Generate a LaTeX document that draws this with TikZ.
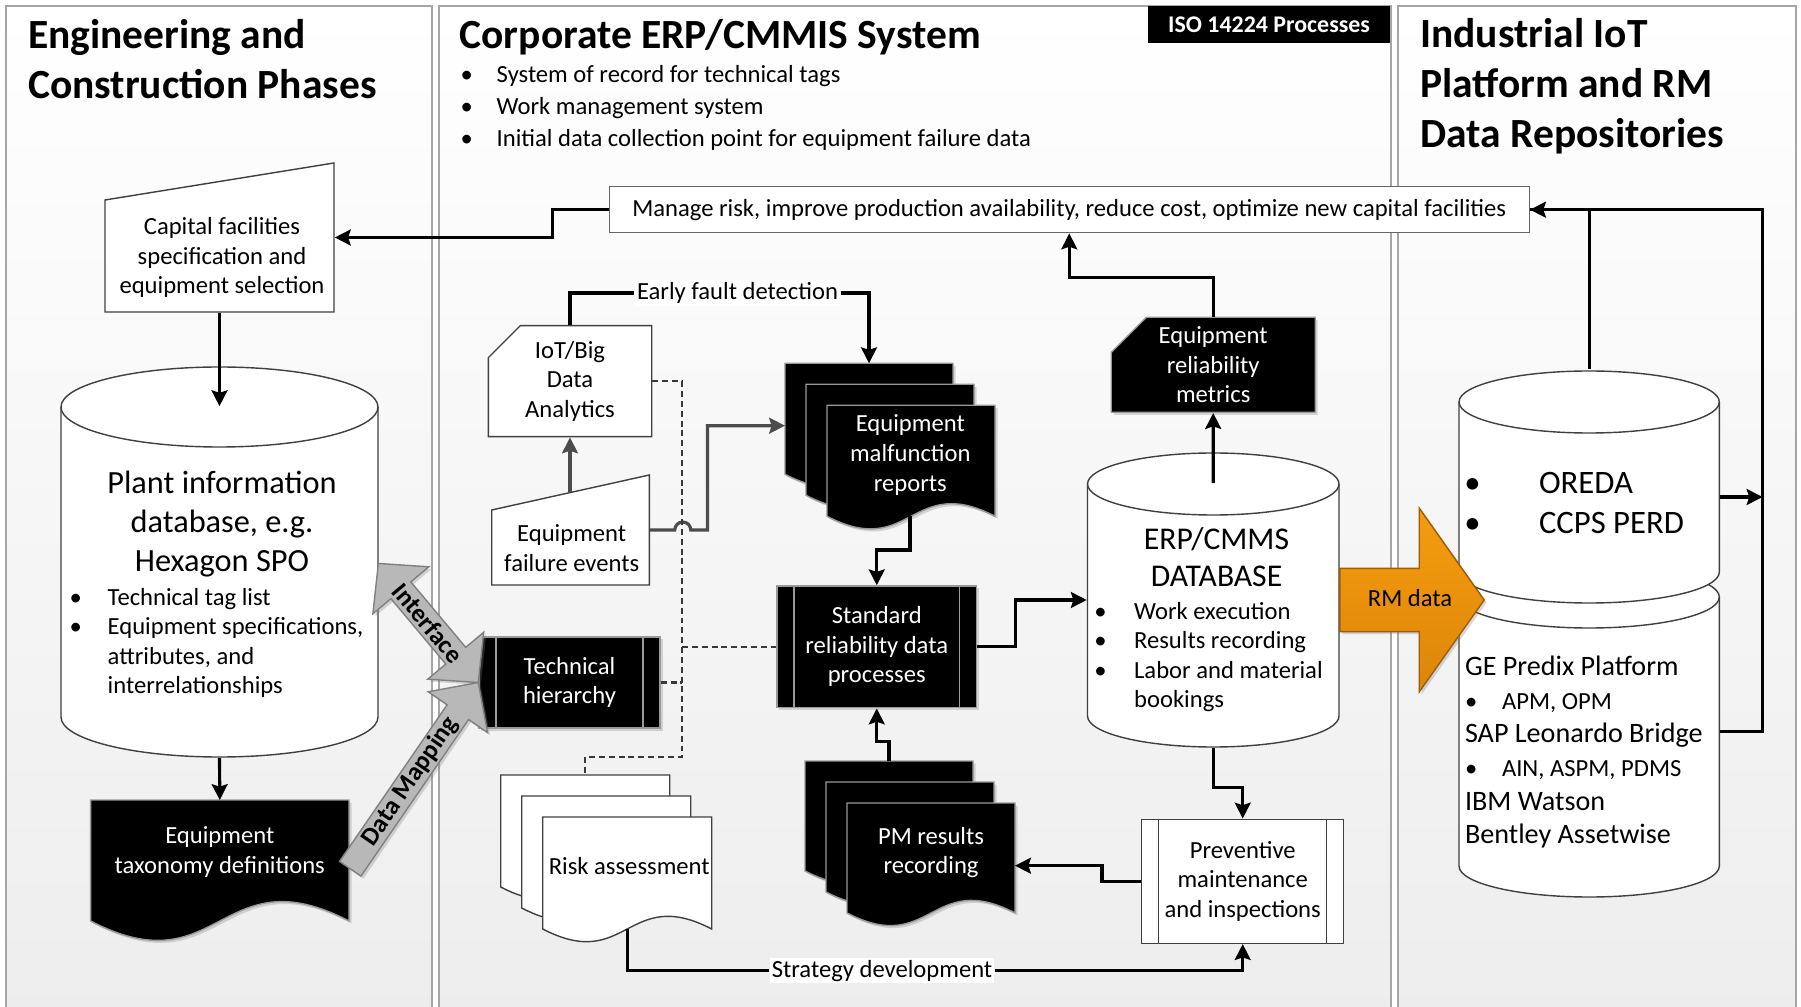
\documentclass[tikz,border=0pt]{standalone}
\usepackage{fontspec}
\setmainfont{Carlito}
\usetikzlibrary{arrows.meta, shadows, calc}

\definecolor{rmorange}{RGB}{245,157,14}
\definecolor{rmorangedk}{RGB}{221,133,10}

\newcommand{\bodyfont}{\fontsize{7}{8.4}\selectfont}
\newcommand{\bigfont}{\fontsize{9.2}{11.2}\selectfont}
\newcommand{\titlefont}{\bfseries\fontsize{11.8}{14.2}\selectfont}
\newcommand{\bul}[1][0.32cm]{\makebox[#1][l]{\hspace*{-0.25em}\textbullet}}
\newcommand{\subln}[1]{{\fontsize{7}{9.56}\selectfont\makebox[0.37cm][l]{\textbullet}#1}}

% shapes, pixel coordinates (y runs down)
\newcommand{\docshape}[5]{%
  \path[#5] (#1,#2) -- (#1+#3,#2) -- (#1+#3,#2+#4)
    .. controls (#1+0.5*#3,#2+#4-0.26*#3) and (#1+0.5*#3,#2+#4+0.26*#3) .. (#1,#2+#4) -- cycle;}
\newcommand{\multidoc}[5]{%
  \docshape{#1}{#2}{#3}{#4}{#5}%
  \docshape{#1+21}{#2+21}{#3}{#4}{#5}%
  \docshape{#1+42}{#2+42}{#3}{#4}{#5}}
\newcommand{\cylshape}[6]{%
  \path[#6] (#1,#3) -- (#1,#4)
    arc[start angle=180, end angle=0, x radius={(#2-#1)/2}, y radius=#5]
    -- (#2,#3) arc[start angle=0, end angle=-180, x radius={(#2-#1)/2}, y radius=#5] -- cycle;
  \draw[#6, fill=none] (#1,#3) arc[start angle=180, end angle=0, x radius={(#2-#1)/2}, y radius=#5];}
\newcommand{\cardshape}[6]{\path[#6] (#1+#5,#3) -- (#2,#3) -- (#2,#4) -- (#1,#4) -- (#1,#3+#5) -- cycle;}
\newcommand{\manualshape}[6]{\path[#6] (#1,#3) -- (#2,#4) -- (#2,#5) -- (#1,#5) -- cycle;}

\begin{document}
\begin{tikzpicture}[x=0.01cm, y=-0.01cm,
    panel/.style={draw=black!35, line width=0.5pt, top color=white, bottom color=black!7},
    ttl/.style={anchor=west, align=left, inner sep=0, font=\titlefont},
    txt/.style={align=center, inner sep=0, font=\bodyfont},
    wtxt/.style={txt, text=white},
    list/.style={anchor=west, align=left, inner sep=0, font=\bodyfont},
    box/.style={rectangle, inner sep=0},
    softshadow/.style={drop shadow={shadow xshift=0.025cm, shadow yshift=-0.025cm, opacity=0.3}},
    wshape/.style={draw=black!75, fill=white, line width=0.4pt},
    bshape/.style={draw=black!40, fill=black, line width=0.4pt, softshadow},
    proc/.style={rectangle, inner sep=0, align=center, font=\bodyfont, line width=0.4pt,
      path picture={\draw[#1, line width=0.4pt]
        ([xshift=0.17cm]path picture bounding box.north west) -- ([xshift=0.17cm]path picture bounding box.south west)
        ([xshift=-0.17cm]path picture bounding box.north east) -- ([xshift=-0.17cm]path picture bounding box.south east);}},
    procb/.style={proc=black!40, fill=black, draw=black!40, text=white, softshadow},
    procw/.style={proc=black!75, fill=white, draw=black!75},
    arr/.style={-{Stealth[length=4.5pt, width=4.5pt, inset=0.7pt]}, line width=0.9pt},
    garr/.style={arr, draw=black!70},
    link/.style={line width=0.9pt},
    dotl/.style={draw=black!78, line width=0.7pt, dash pattern=on 1.7pt off 1.1pt},
    lbl/.style={fill=white, inner sep=0.6pt, font=\bodyfont},
    gray arrow/.style={fill=black!28, draw=black!50, line width=0.4pt, softshadow},
    rm arrow/.style={top color=rmorange, bottom color=rmorangedk, draw=rmorangedk!70!black, line width=0.4pt, softshadow}
  ]
  \useasboundingbox (0,0) rectangle (1801,1007);

  % lanes
  \path[panel] (6,6) rectangle (432,1015);
  \path[panel] (439,6) rectangle (1391,1015);
  \path[panel] (1398,6) rectangle (1796,1015);

  \node[fill=black, text=white, inner sep=0, minimum width=2.42cm, minimum height=0.367cm,
        font=\bfseries\fontsize{6.8}{8}\selectfont] (iso) at (1269,24.4) {ISO 14224 Processes};
  \node[ttl] (engttl) at (27.5,59) {Engineering and\\Construction Phases};
  \node[ttl] (erpttl) at (459,37.5) {Corporate ERP/CMMIS System};
  \node[ttl] (iotttl) at (1419.5,86.5) {Industrial IoT\\Platform and RM\\Data Repositories};
  \node[list, font=\fontsize{7}{9}\selectfont] (erpnotes) at (466,107.8)
    {\bul[0.3cm]System of record for technical tags\\\bul[0.3cm]Work management system\\\bul[0.3cm]Initial data collection point for equipment failure data};

  \node[txt, draw=black!60, fill=white, minimum width=9.195cm, minimum height=0.46cm] (manage) at (1069.25,209.7)
    {Manage risk, improve production availability, reduce cost, optimize new capital facilities};

  % engineering lane
  \manualshape{105}{334}{200}{163}{312}{wshape}
  \node[box, minimum width=2.29cm, minimum height=1.49cm] (capital) at (219.5,237.5) {};
  \node[txt] (captxt) at (222,257.5) {Capital facilities\\specification and\\equipment selection};

  \cylshape{61}{378}{407}{717}{40}{wshape}
  \node[box, minimum width=3.17cm, minimum height=3.1cm] (plant) at (219.5,562) {};
  \node[txt, font=\bigfont] (planttxt) at (222,524) {Plant information\\database, e.g.\\Hexagon SPO};
  \node[list] (plantlist) at (75,643) {\bul Technical tag list\\\bul Equipment specifications,\\\hspace*{0.32cm}attributes, and\\\hspace*{0.32cm}interrelationships};

  \docshape{90.6}{800}{258.4}{121}{bshape}
  \node[wtxt, minimum width=2.584cm, minimum height=1.024cm] (taxo) at (219.8,852) {Equipment\\taxonomy definitions};

  % ERP lane
  \cardshape{488.3}{651.7}{325.7}{436.7}{32}{wshape}
  \node[txt, minimum width=1.634cm, minimum height=1.11cm] (iot) at (570,381.2) {IoT/Big\\Data\\Analytics};
  \manualshape{491.7}{649.3}{510}{475}{585}{wshape}
  \node[box, minimum width=1.576cm, minimum height=1.1cm] (fail) at (570.5,530) {};
  \node[txt] (failtxt) at (571.7,548) {Equipment\\failure events};
  \node[procb, minimum width=1.81cm, minimum height=0.91cm] (hier) at (569.5,682.5) {Technical\\hierarchy};

  \multidoc{785}{363.3}{168}{111}{bshape}
  \node[wtxt, minimum width=1.68cm, minimum height=0.988cm] (malf) at (910.3,455) {Equipment\\malfunction\\reports};
  \node[procb, minimum width=1.995cm, minimum height=1.217cm] (std) at (876.75,646.85) {Standard\\reliability data\\processes};
  \multidoc{805}{761}{168}{110}{bshape}
  \node[wtxt, minimum width=1.68cm, minimum height=0.97cm] (pm) at (931,852.5) {PM results\\recording};
  \multidoc{500.7}{775}{169}{112}{wshape}
  \node[txt, minimum width=1.69cm, minimum height=0.974cm] (risk) at (629.2,866) {Risk assessment};

  \cardshape{1111.2}{1315.2}{317.3}{412.3}{35}{bshape}
  \node[wtxt, minimum width=2.04cm, minimum height=0.95cm] (metrics) at (1213.2,364.8) {Equipment\\reliability\\metrics};
  \cylshape{1087.5}{1339}{484}{716}{31}{wshape}
  \node[box, minimum width=2.515cm, minimum height=2.32cm] (erp) at (1213.25,600) {};
  \node[txt, font=\fontsize{9}{10.5}\selectfont] (erptxt) at (1216.5,556.7) {ERP/CMMS\\DATABASE};
  \node[list] (erplist) at (1099.7,657) {\bul[0.337cm]Work execution\\\bul[0.337cm]Results recording\\\bul[0.337cm]Labor and material\\\hspace*{0.337cm}bookings};
  \node[procw, minimum width=2.018cm, minimum height=1.24cm] (prev) at (1242.7,881.3) {Preventive\\maintenance\\and inspections};

  % repositories lane
  \cylshape{1459}{1719.3}{597}{866}{31}{wshape}
  \node[box, minimum width=2.603cm, minimum height=2.69cm] (tools) at (1589.2,731.5) {};
  \node[list, font=\fontsize{8}{9.56}\selectfont] (toolslist) at (1464.3,752.3)
    {GE Predix Platform\\\subln{APM, OPM}\\SAP Leonardo Bridge\\\subln{AIN, ASPM, PDMS}\\IBM Watson\\Bentley Assetwise};
  \cylshape{1459}{1719.3}{402}{572}{31}{wshape}
  \node[box, minimum width=2.603cm, minimum height=1.7cm] (oreda) at (1589.2,487) {};
  \node[list, font=\fontsize{9.3}{11.4}\selectfont] (repolist) at (1471.7,502.6) {\bul[0.666cm]OREDA\\\bul[0.666cm]CCPS PERD};

  % ports
  \coordinate (malfin) at (869,363.3);
  \coordinate (malfside) at (785,425.7);
  \coordinate (malfout) at (910,516);
  \coordinate (pmtop) at (889,761);
  \coordinate (pmside) at (1015,865.7);
  \coordinate (riskin) at (585.2,775);
  \coordinate (riskout) at (627.2,929);
  \coordinate (failtop) at (570,492.6);
  \coordinate (bus) at (682,757);

  \node[lbl] (efd) at (737.5,293) {Early fault detection};
  \node[lbl] (strat) at (882,970.7) {Strategy development};

  % connectors
  \draw[arr] (manage.west) -- ++(-56,0) |- (capital.east);
  \draw[arr] (capital.south) -- (plant.north);
  \draw[arr] ([yshift=-0.4cm]plant.south) -- (taxo.north);
  \draw[link] (iot.north) |- (efd.west);
  \draw[arr] (efd.east) -| (malfin);
  \draw[garr] (failtop) -- (iot.south);
  \draw[garr] (fail.east) -- ++(24.7,0) arc[start angle=180, end angle=360, radius=8] -- ++(16.7,0) |- (malfside);
  \draw[arr] (malfout) -- ++(0,34) -| (std.north);
  \draw[arr] (std.east) -- ++(38,0) |- (erp.west);
  \draw[arr] (erp.north) -- (metrics.south);
  \draw[arr] (metrics.north) -- ++(0,-38.8) -| (manage.south);
  \draw[arr] ([yshift=-0.31cm]erp.south) -- ++(0,39.3) -| (prev.north);
  \draw[arr] (prev.west) -- ++(-39,0) |- (pmside);
  \draw[arr] (pmtop) -- ++(0,-19.3) -| (std.south);
  \draw[link] (riskout) |- (strat.west);
  \draw[arr] (strat.east) -| (prev.south);
  \draw[dotl] (iot.east) -| (bus) -| (riskin);
  \draw[dotl] (hier.east) -- (hier.east -| bus);
  \draw[dotl] (bus |- std.west) -- (std.west);
  \draw[arr] (tools.east) -- ++(42.4,0) |- (manage.east);
  \draw[link] ([yshift=0.32cm]oreda.north) |- (manage.east);
  \draw[arr] ([yshift=-0.1cm]oreda.east) -- ++(42.4,0);

  % mapping arrows
  \begin{scope}[shift={(hier.west)}, rotate=130]
    \path[gray arrow] (0,0) -- (35,-36.5) -- (35,-13) -- (120.4,-13) -- (120.4,-36.5) -- (155.4,0)
      -- (120.4,36.5) -- (120.4,13) -- (35,13) -- (35,36.5) -- cycle;
    \node[font=\bfseries\fontsize{7.3}{8}\selectfont, inner sep=0, rotate=-50] (ifc) at (77.7,0) {Interface};
  \end{scope}
  \begin{scope}[shift={(hier.west)}, rotate=-124.5]
    \path[gray arrow] (0,0) -- (36,-36) -- (36,-13) -- (226,-13) -- (226,13) -- (36,13) -- (36,36) -- cycle;
    \node[font=\bfseries\fontsize{7.3}{8}\selectfont, inner sep=0, rotate=55.5] (dmap) at (120,0) {Data Mapping};
  \end{scope}
  \begin{scope}[shift={(erp.east)}]
    \path[rm arrow] (0,-31.6) -- (79.4,-31.6) -- (79.4,-92) -- (144.4,0) -- (79.4,92) -- (79.4,31.6) -- (0,31.6) -- cycle;
  \end{scope}
  \node[txt] (rmtxt) at (1410,598) {RM data};
\end{tikzpicture}
\end{document}
